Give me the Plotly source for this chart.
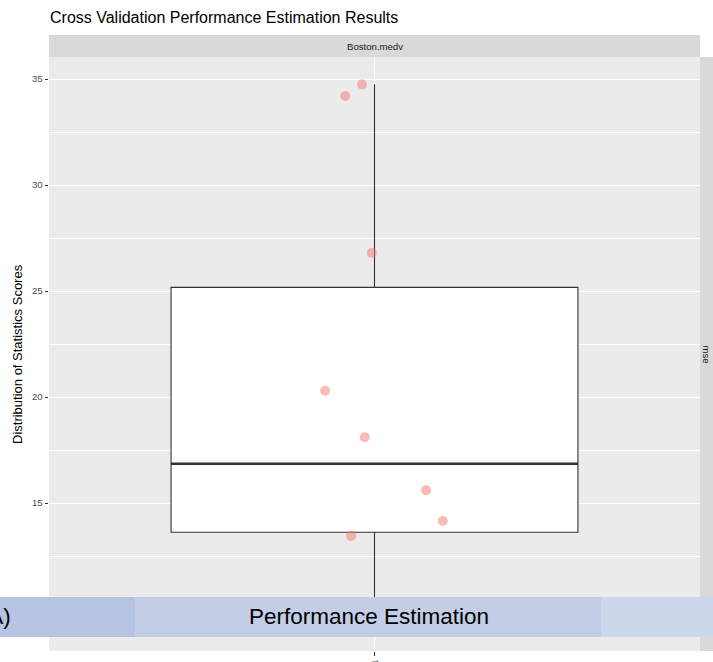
import numpy as np
import plotly.graph_objects as go

# Cross-validation MSE per fold for the Boston.medv task
workflow = "rpartXse.v1"
fold_scores = [34.75, 34.2, 26.8, 20.3, 18.1, 15.6, 14.15, 13.45, 10.2, 9.9]
fold_jitter = [-0.023, -0.054, -0.005, -0.091, -0.018, 0.095, 0.126, -0.043, 0.06, -0.11]
task_name = "Boston.medv"
metric_name = "mse"
y_ticks = [10, 15, 20, 25, 30, 35]

W, H = 713, 662
ML, MR, MT, MB = 49, 13, 57, 11
PW, PH = W - ML - MR, H - MT - MB


def px_x(p):
    return (p - ML) / PW


def px_y(p):
    return (H - MB - p) / PH


scores = np.array(fold_scores)
q1, med, q3 = np.percentile(scores, [25, 50, 75])
iqr = q3 - q1
lo = scores[scores >= q1 - 1.5 * iqr].min()
hi = scores[scores <= q3 + 1.5 * iqr].max()

FONT = "Liberation Sans, Arial, Helvetica, sans-serif"
BOX_W = 0.75

fig = go.Figure()
fig.add_trace(go.Box(
    x=[1], q1=[q1], median=[med], q3=[q3], lowerfence=[lo], upperfence=[hi],
    width=BOX_W, whiskerwidth=0, fillcolor="white",
    line=dict(color="#333333", width=1.1), boxpoints=False,
    hoverinfo="skip", showlegend=False,
))
fig.add_trace(go.Scatter(
    x=[1 - BOX_W / 2, 1 + BOX_W / 2], y=[med, med], mode="lines",
    line=dict(color="#333333", width=2.4), hoverinfo="skip", showlegend=False,
))
fig.add_trace(go.Scatter(
    x=[1 + j for j in fold_jitter], y=fold_scores, mode="markers",
    marker=dict(color="rgba(248,118,109,0.5)", size=10, line=dict(width=0)),
    showlegend=False,
))

fig.update_layout(
    width=W, height=H,
    margin=dict(l=ML, r=MR, t=MT, b=MB, pad=0),
    paper_bgcolor="white", plot_bgcolor="#ebebeb",
    font=dict(family=FONT, color="#4d4d4d"),
    showlegend=False,
)
fig.update_xaxes(
    range=[0.4, 1.6], tickvals=[1], ticktext=[workflow], tickangle=-90,
    showgrid=True, gridcolor="white", gridwidth=1.1, zeroline=False,
    ticks="outside", ticklen=3.5, tickcolor="#333333", tickwidth=1,
    tickfont=dict(size=9.6, color="#4d4d4d"), showline=False, automargin=False,
)
fig.update_yaxes(
    range=[8.02, 36.04], tickvals=y_ticks,
    showgrid=True, gridcolor="white", gridwidth=1.1, zeroline=False,
    ticks="outside", ticklen=3.5, tickcolor="#333333", tickwidth=1,
    tickfont=dict(size=9.6, color="#4d4d4d"), showline=False, automargin=False,
    minor=dict(dtick=2.5, tick0=7.5, showgrid=True, gridcolor="white", gridwidth=0.55, ticks=""),
)

shapes = [
    # facet strips
    dict(type="rect", xref="paper", yref="paper", x0=0, x1=1, y0=1, y1=px_y(35),
         fillcolor="#d9d9d9", line=dict(width=0), layer="below"),
    dict(type="rect", xref="paper", yref="paper", x0=1, x1=px_x(730), y0=0, y1=1,
         fillcolor="#d9d9d9", line=dict(width=0), layer="below"),
    # banner
    dict(type="rect", xref="paper", yref="paper", x0=px_x(-10), x1=px_x(135),
         y0=px_y(637), y1=px_y(597), fillcolor="#b6c4e1", line=dict(width=0), layer="above"),
    dict(type="rect", xref="paper", yref="paper", x0=px_x(135), x1=px_x(601),
         y0=px_y(637), y1=px_y(597), fillcolor="#c3cee6", line=dict(width=0), layer="above"),
    dict(type="rect", xref="paper", yref="paper", x0=px_x(601), x1=px_x(730),
         y0=px_y(637), y1=px_y(597), fillcolor="#cdd7eb", line=dict(width=0), layer="above"),
]
fig.update_layout(shapes=shapes)

annots = [
    dict(text="Cross Validation Performance Estimation Results", x=px_x(48), y=px_y(18),
         xanchor="left", yanchor="middle", font=dict(size=16, color="black")),
    dict(text="Distribution of Statistics Scores", x=px_x(17), y=0.5, textangle=-90,
         xanchor="center", yanchor="middle", font=dict(size=13, color="black")),
    dict(text=task_name, x=0.5, y=px_y(46.5), xanchor="center", yanchor="middle",
         font=dict(size=9.6, color="#1a1a1a")),
    dict(text=metric_name, x=px_x(706.5), y=0.5, textangle=90, xanchor="center",
         yanchor="middle", font=dict(size=9.6, color="#1a1a1a")),
    dict(text="Performance Estimation", x=px_x(368.5), y=px_y(616), xanchor="center",
         yanchor="middle", font=dict(size=22.5, color="black")),
    dict(text="Exploratory Data Analysis (EDA)", x=px_x(13), y=px_y(616), xanchor="right",
         yanchor="middle", font=dict(size=22.5, color="black")),
]
for a in annots:
    a.update(xref="paper", yref="paper", showarrow=False)
fig.update_layout(annotations=annots)

fig.write_html("out.html")
